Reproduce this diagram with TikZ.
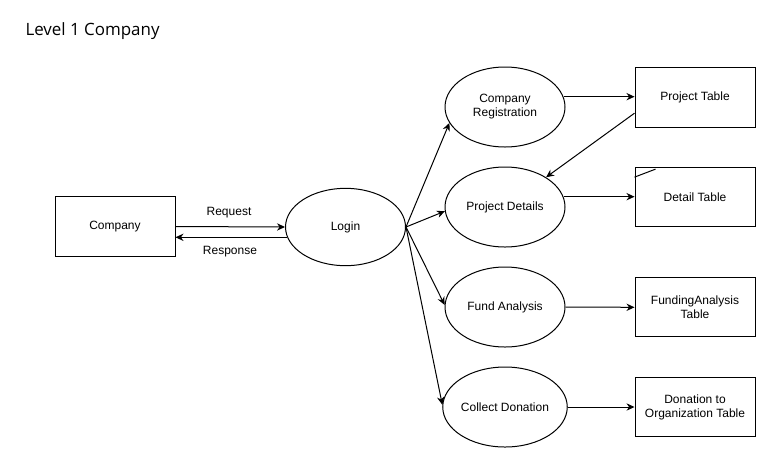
\documentclass[tikz,border=0pt]{standalone}
\usepackage{fontspec}
\setmainfont{Liberation Sans}
\newfontfamily\titlefont{Open Sans}
\usetikzlibrary{shapes.geometric,arrows.meta,calc}

\tikzset{every picture/.style={line width=0.75pt}}
\tikzset{
  txt/.style={font=\fontsize{9}{10.5}\selectfont, align=center},
  proc/.style={txt, draw, ellipse, minimum width=90pt, minimum height=60pt, inner sep=0pt},
  store/.style={txt, draw, rectangle, minimum width=90pt, minimum height=44.5pt, inner sep=0pt},
  flow/.style={-{Stealth[length=6pt,width=5.5pt]}}
}

\begin{document}
\begin{tikzpicture}[x=0.75pt,y=0.75pt,yscale=-1,xscale=1]
\useasboundingbox (0,0) rectangle (766,458);

% Title
\node [anchor=west, inner sep=0pt, font=\titlefont\fontsize{12.7}{15}\selectfont] (title) at (25,31) {Level 1 Company};

% Entity
\node [store] (comp) at (115,226.5) {Company};
% Processes
\node [proc, minimum height=58pt] (login) at (345.5,227) {Login};
\node [proc] (reg) at (505,107) {Company\\Registration};
\node [proc] (det) at (505,207) {Project Details};
\node [proc] (fund) at (505,307) {Fund Analysis};
\node [proc] (coll) at (505,407) {Collect Donation};
% Tables
\node [store] (ptab) at (695,97.5) {Project Table};
\node [store] (dtab) at (695,197.3) {Detail Table};
\node [store] (ftab) at (695,307.3) {FundingAnalysis\\Table};
\node [store] (otab) at (695,407) {Donation to\\Organization Table};

% Text Node
\node [txt, inner sep=0.75pt] (req) at (229,212.5) {Request};
% Text Node
\node [txt, inner sep=0.75pt] (resp) at (230,251.5) {Response};

% Company <-> Login
\draw [flow] (comp.east) -- (login.west);
\draw [flow] (login.190) -- (login.190 -| comp.east);

% Login -> processes
\draw [flow] (login.east) -- (reg.196);
\draw [flow] (login.east) -- (det.184);
\draw [flow] (login.east) -- (fund.178);
\draw [flow] (login.east) -- (coll.178);

% processes -> tables
\draw [flow] (reg.10) -- (reg.10 -| ptab.west);
\draw [flow] (det.10) -- (det.10 -| dtab.west);
\draw [flow] (fund.east) -- (ftab.west);
\draw [flow] (coll.east) -- (otab.west);

% Project Table -> Project Details
\coordinate (pout) at ($(ptab.south west)!0.24!(ptab.north west)$);
\draw [flow] (pout) -- (det);

% stray stroke on Detail Table
\draw ($(dtab.north west)+(0,10)$) -- ($(dtab.north west)+(21,2)$);

\end{tikzpicture}
\end{document}
